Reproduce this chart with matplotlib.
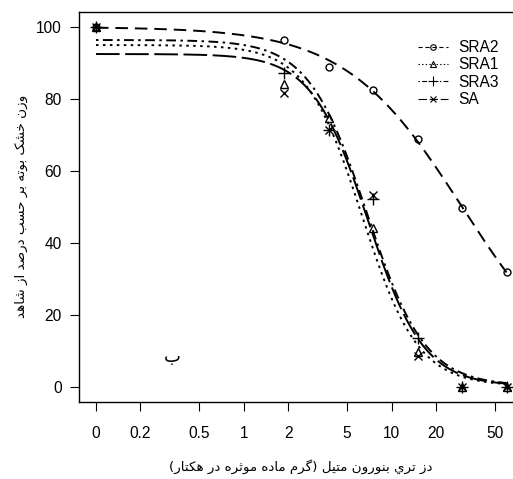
import numpy as np
import matplotlib
matplotlib.use("Agg")
import matplotlib.pyplot as plt
from matplotlib.lines import Line2D

plt.rcParams['font.family'] = ['Liberation Sans', 'DejaVu Sans']
plt.rcParams['lines.scale_dashes'] = False

# doses (g a.i./ha), 0 is drawn at 0.1 on the log axis
doses = [0, 1.875, 3.75, 7.5, 15, 30, 60]
zero_pos = 0.1

names = ['SRA2', 'SRA1', 'SRA3', 'SA']
sra2 = [100, 96.4, 88.8, 82.5, 68.9, 49.7, 31.9]
sra1 = [100, 84.1, 74.6, 44.3, 9.8, 0, 0]
sra3 = [100, 87.3, 71.4, 52.2, 13.5, 0, 0]
sa = [100, 81.8, 71.4, 53.3, 8.6, 0, 0]

# log-logistic fit parameters: upper, lower, ED50, slope
upper = [100, 95.0, 96.4, 92.5]
lower = [0, 0.3, 0.3, 0.3]
ed50 = [30, 6.3, 6.8, 6.9]
slope = [1.1, 2.3, 2.2, 2.3]

x_ticks = [0.1, 0.2, 0.5, 1, 2, 5, 10, 20, 50]
x_ticklabels = ['0', '0.2', '0.5', '1', '2', '5', '10', '20', '50']
y_ticks = [0, 20, 40, 60, 80, 100]

ylabel = 'وزن خشک بوته بر حسب درصد از شاهد'
xlabel = 'دز تري بنورون متيل (گرم ماده موثره در هکتار)'
panel = 'ب'

# crude arabic shaping (matplotlib has no bidi / joining support)
FORMS = {
    'ا': ('\uFE8D', '\uFE8E', None, None),
    'ب': ('\uFE8F', '\uFE90', '\uFE91', '\uFE92'),
    'ت': ('\uFE95', '\uFE96', '\uFE97', '\uFE98'),
    'ث': ('\uFE99', '\uFE9A', '\uFE9B', '\uFE9C'),
    'ح': ('\uFEA1', '\uFEA2', '\uFEA3', '\uFEA4'),
    'خ': ('\uFEA5', '\uFEA6', '\uFEA7', '\uFEA8'),
    'د': ('\uFEA9', '\uFEAA', None, None),
    'ر': ('\uFEAD', '\uFEAE', None, None),
    'ز': ('\uFEAF', '\uFEB0', None, None),
    'س': ('\uFEB1', '\uFEB2', '\uFEB3', '\uFEB4'),
    'ش': ('\uFEB5', '\uFEB6', '\uFEB7', '\uFEB8'),
    'ص': ('\uFEB9', '\uFEBA', '\uFEBB', '\uFEBC'),
    'ل': ('\uFEDD', '\uFEDE', '\uFEDF', '\uFEE0'),
    'م': ('\uFEE1', '\uFEE2', '\uFEE3', '\uFEE4'),
    'ن': ('\uFEE5', '\uFEE6', '\uFEE7', '\uFEE8'),
    'ه': ('\uFEE9', '\uFEEA', '\uFEEB', '\uFEEC'),
    'و': ('\uFEED', '\uFEEE', None, None),
    'ي': ('\uFEF1', '\uFEF2', '\uFEF3', '\uFEF4'),
    'ک': ('\uFB8E', '\uFB8F', '\uFB90', '\uFB91'),
    'گ': ('\uFB92', '\uFB93', '\uFB94', '\uFB95'),
}


def shape(text):
    out = []
    for i, ch in enumerate(text):
        if ch not in FORMS:
            out.append(ch)
            continue
        prev = text[i - 1] if i > 0 else ''
        nxt = text[i + 1] if i + 1 < len(text) else ''
        jp = prev in FORMS and FORMS[prev][2] is not None
        jn = nxt in FORMS and FORMS[ch][2] is not None
        iso, fin, ini, med = FORMS[ch]
        if jp and jn:
            out.append(med)
        elif jp:
            out.append(fin)
        elif jn:
            out.append(ini)
        else:
            out.append(iso)
    vis = ''.join(out)[::-1]
    return vis.translate(str.maketrans('()', ')('))


fig = plt.figure(figsize=(5.13, 4.79), dpi=100)
ax = fig.add_axes([79 / 513, 1 - 402 / 479, 444 / 513, 390 / 479])

series = [sra2, sra1, sra3, sa]
markers = ['o', '^', '+', 'x']
msizes = [5, 6, 8, 6]
dashes = [(9, 5), (1.8, 3.2), (1.8, 3.2, 7, 3.2), (17, 4)]
leg_dashes = [(3, 2), (1, 1.6), (1, 1.6, 3.5, 1.6), (6, 2)]

xpos = [zero_pos if d == 0 else d for d in doses]
xs = np.logspace(np.log10(zero_pos), np.log10(doses[-1]), 400)

handles = []
for i in range(4):
    yc = lower[i] + (upper[i] - lower[i]) / (1 + np.exp(slope[i] * (np.log(xs) - np.log(ed50[i]))))
    ax.plot(xs, yc, color='black', lw=1.4, dashes=dashes[i])
    ax.plot(xpos, series[i], ls='none', marker=markers[i], ms=msizes[i],
            mfc='none', mec='black', mew=1.0)
    handles.append(Line2D([], [], color='black', lw=0.8, dashes=leg_dashes[i],
                          marker=markers[i], ms=msizes[i] - 1, mfc='none', mec='black', mew=0.8))

ax.set_xscale('log')
ax.set_xlim(10 ** -1.115, 10 ** 1.889)
ax.set_ylim(-4.17, 104.17)
ax.set_xticks(x_ticks)
ax.set_xticklabels(x_ticklabels)
ax.minorticks_off()
ax.set_yticks(y_ticks)
ax.tick_params(axis='both', direction='out', length=6.5, width=0.8, labelsize=11.2)
ax.tick_params(axis='x', pad=11)
ax.tick_params(axis='y', pad=6)
for s in ax.spines.values():
    s.set_linewidth(1.0)

ax.text(0.33, 8.3, shape(panel), family=['DejaVu Sans'], fontsize=13, ha='center', va='center')

fig.text(21 / 513, 1 - 206 / 479, shape(ylabel), family=['DejaVu Sans'], fontsize=9.7,
         rotation=90, ha='center', va='center')
fig.text(301 / 513, 1 - 467 / 479, shape(xlabel), family=['DejaVu Sans'], fontsize=9.7,
         ha='center', va='center')

fig.legend(handles, names, loc='upper left', bbox_to_anchor=(418 / 513, 1 - 40 / 479),
           frameon=False, fontsize=11.2, handlelength=1.9, handletextpad=0.7,
           labelspacing=0.15, borderpad=0, borderaxespad=0)

fig.savefig('out.png', dpi=100)
